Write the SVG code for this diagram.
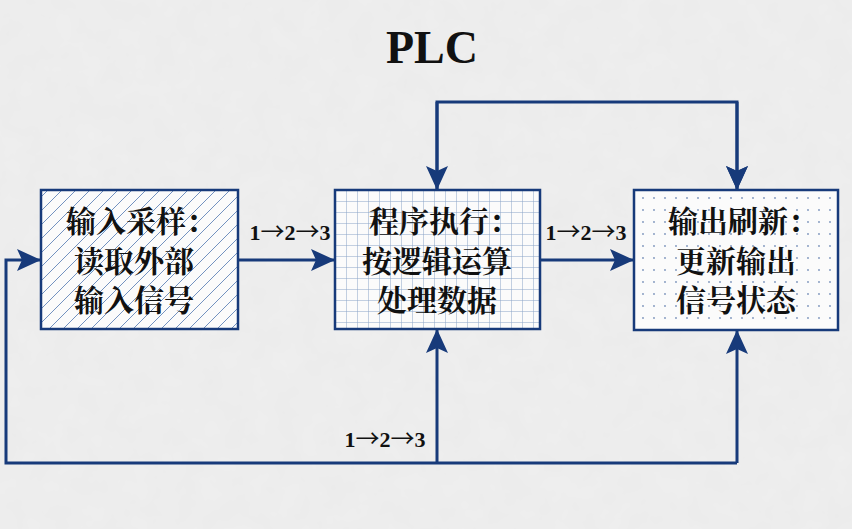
<svg xmlns="http://www.w3.org/2000/svg" width="852" height="529" viewBox="0 0 852 529">
<style>
.box{stroke:#173a7a;stroke-width:2.5}
.t{font-family:"Liberation Serif","Noto Serif CJK SC","Noto Sans CJK SC",serif;font-weight:bold;font-size:30px;fill:#111;text-anchor:middle}
.lbl{font-family:"Liberation Serif",serif;font-weight:bold;font-size:22px;fill:#111;text-anchor:middle}
.ar{font-family:"Noto Sans CJK SC",sans-serif;font-weight:normal;font-size:24px}
.c{fill:none;stroke:#173a7a;stroke-width:3}
</style>
<defs>
<filter id="paper" x="0" y="0" width="100%" height="100%">
<feTurbulence type="fractalNoise" baseFrequency="0.04" numOctaves="3" seed="3"/>
<feColorMatrix type="matrix" values="0 0 0 0 0.5  0 0 0 0 0.5  0 0 0 0 0.5  0 0 0 0.08 0"/>
</filter>
<pattern id="hatch" width="14" height="14" patternUnits="userSpaceOnUse">
<rect width="14" height="14" fill="#fbfbfb"/>
<path d="M-1,15 L15,-1 M-3,3 L3,-3 M11,17 L17,11" stroke="#7392c0" stroke-width="1"/>
</pattern>
<pattern id="grid" width="11" height="11" patternUnits="userSpaceOnUse" x="335" y="190">
<rect width="11" height="11" fill="#fbfbfb"/>
<path d="M0,0 H11 M0,0 V11" stroke="#8aa3c8" stroke-width="1"/>
</pattern>
<pattern id="dots" width="11" height="12" patternUnits="userSpaceOnUse">
<rect width="11" height="12" fill="#fbfbfb"/>
<circle cx="5" cy="6" r="0.9" fill="#7b93bb"/>
</pattern>
<marker id="arr" markerWidth="24" markerHeight="22" refX="24" refY="11" orient="auto" markerUnits="userSpaceOnUse">
<path d="M0,0 L24,11 L0,22 L5,11 Z" fill="#173a7a"/>
</marker>
</defs>
<rect width="852" height="529" fill="#efefef"/>
<rect width="852" height="529" filter="url(#paper)"/>
<text x="432" y="63" font-family="Liberation Serif,serif" font-weight="bold" font-size="46" text-anchor="middle" fill="#111">PLC</text>
<g id="connectors">
<path class="c" d="M437,190 V102 H737 V190" marker-end="url(#arr)"/>
<path class="c" d="M737,102 V190" marker-end="url(#arr)"/>
<path class="c" d="M238,260 H335" marker-end="url(#arr)"/>
<path class="c" d="M540,260 H634" marker-end="url(#arr)"/>
<path class="c" d="M437,463 V329" marker-end="url(#arr)"/>
<path class="c" d="M737,463 V330" marker-end="url(#arr)"/>
<path class="c" d="M737,463 H6 V260 H41" marker-end="url(#arr)"/>
<path class="c" d="M437,102 V190" marker-end="url(#arr)"/>
<text class="lbl" x="290" y="240">1<tspan class="ar">→</tspan>2<tspan class="ar">→</tspan>3</text>
<text class="lbl" x="586" y="240">1<tspan class="ar">→</tspan>2<tspan class="ar">→</tspan>3</text>
<text class="lbl" x="385" y="447">1<tspan class="ar">→</tspan>2<tspan class="ar">→</tspan>3</text>
</g>
<g id="input">
<rect class="box" x="41" y="190" width="197" height="139" fill="url(#hatch)"/>
<text class="t" x="141" y="232">输入采样：</text>
<text class="t" x="134" y="272">读取外部</text>
<text class="t" x="134" y="311">输入信号</text>
</g>
<g id="program">
<rect class="box" x="335" y="190" width="205" height="139" fill="url(#grid)"/>
<text class="t" x="444" y="232">程序执行：</text>
<text class="t" x="437" y="272">按逻辑运算</text>
<text class="t" x="437" y="311">处理数据</text>
</g>
<g id="output">
<rect class="box" x="634" y="190" width="204" height="140" fill="url(#dots)"/>
<text class="t" x="743" y="232">输出刷新：</text>
<text class="t" x="736" y="272">更新输出</text>
<text class="t" x="736" y="311">信号状态</text>
</g>
</svg>
